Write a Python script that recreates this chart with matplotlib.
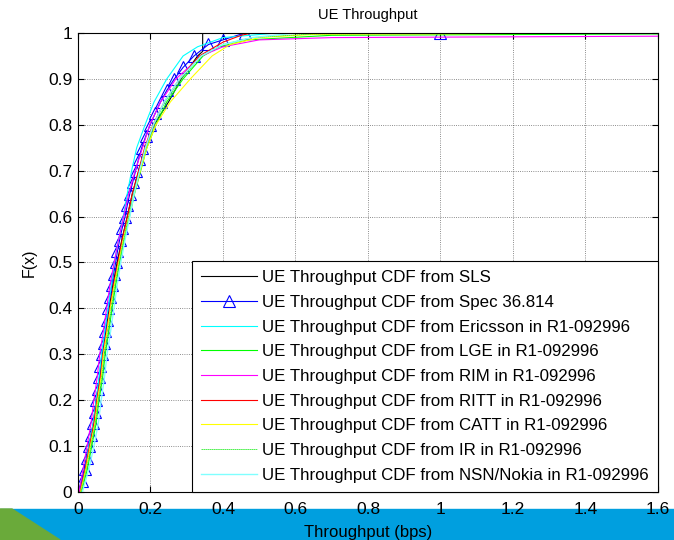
import numpy as np
import matplotlib
matplotlib.use('Agg')
import matplotlib.pyplot as plt
from matplotlib.patches import Rectangle, Polygon

plt.rcParams['font.family'] = ['Liberation Sans', 'DejaVu Sans']

# CDF levels shared by most of the curves
cdf_levels = [0.0, 0.05, 0.1, 0.15, 0.2, 0.25, 0.3, 0.35, 0.4, 0.45, 0.5,
              0.55, 0.6, 0.65, 0.7, 0.75, 0.8, 0.85, 0.9, 0.95]

# throughput (x) read at each level, plus the tail of each curve
sls_x = [0.004, 0.018, 0.03, 0.043, 0.05, 0.06, 0.067, 0.077, 0.086, 0.096, 0.108,
         0.121, 0.136, 0.15, 0.168, 0.186, 0.21, 0.25, 0.285, 0.33]
sls_tail_f = [0.96, 1.0]
sls_tail_x = [0.344, 0.344]

ericsson_x = [0.006, 0.02, 0.03, 0.042, 0.05, 0.058, 0.065, 0.074, 0.083, 0.092, 0.1,
              0.112, 0.125, 0.136, 0.148, 0.162, 0.185, 0.21, 0.245, 0.29]
ericsson_tail_f = [0.97, 0.99, 1.0, 1.0]
ericsson_tail_x = [0.33, 0.4, 0.55, 1.6]

lge_x = [0.01, 0.026, 0.038, 0.05, 0.058, 0.068, 0.075, 0.085, 0.094, 0.104, 0.115,
         0.128, 0.142, 0.156, 0.173, 0.19, 0.215, 0.245, 0.29, 0.345]
lge_tail_f = [0.97, 0.985, 0.995, 0.998]
lge_tail_x = [0.39, 0.47, 0.7, 1.6]

rim_x = [0.003, 0.014, 0.025, 0.036, 0.044, 0.053, 0.06, 0.07, 0.079, 0.088, 0.1,
         0.112, 0.126, 0.14, 0.158, 0.178, 0.198, 0.228, 0.27, 0.34]
rim_tail_f = [0.97, 0.985, 0.99, 0.993]
rim_tail_x = [0.4, 0.5, 0.7, 1.6]

ritt_x = [0.006, 0.02, 0.032, 0.044, 0.052, 0.062, 0.069, 0.079, 0.088, 0.098, 0.11,
          0.122, 0.136, 0.15, 0.167, 0.184, 0.207, 0.238, 0.28, 0.335]
ritt_tail_f = [0.98, 0.995, 1.0, 1.0]
ritt_tail_x = [0.4, 0.45, 0.48, 1.6]

catt_x = [0.007, 0.022, 0.034, 0.047, 0.054, 0.064, 0.07, 0.08, 0.089, 0.1, 0.112,
          0.125, 0.14, 0.155, 0.172, 0.19, 0.215, 0.255, 0.31, 0.37]
catt_tail_f = [0.975, 0.99, 0.997, 1.0]
catt_tail_x = [0.42, 0.5, 0.65, 1.6]

ir_x = [0.008, 0.024, 0.036, 0.048, 0.056, 0.066, 0.073, 0.083, 0.092, 0.102, 0.114,
        0.126, 0.14, 0.153, 0.17, 0.188, 0.21, 0.24, 0.285, 0.34]
ir_tail_f = [0.975, 0.99, 0.998, 1.0]
ir_tail_x = [0.4, 0.48, 0.65, 1.6]

nsn_x = [0.012, 0.03, 0.044, 0.056, 0.064, 0.073, 0.08, 0.09, 0.099, 0.108, 0.118,
         0.13, 0.143, 0.155, 0.17, 0.186, 0.208, 0.238, 0.28, 0.34]
nsn_tail_f = [0.975, 0.99, 1.0, 1.0]
nsn_tail_x = [0.4, 0.48, 0.6, 1.6]

# Spec 36.814 curve has its own, denser points
spec_f = [0.0, 0.025, 0.05, 0.075, 0.1, 0.125, 0.15, 0.175, 0.2, 0.225, 0.25, 0.275,
          0.3, 0.325, 0.35, 0.375, 0.4, 0.425, 0.45, 0.475, 0.5, 0.525, 0.55, 0.575,
          0.6, 0.625, 0.65, 0.675, 0.7, 0.725, 0.75, 0.775, 0.8, 0.825, 0.85, 0.875,
          0.9, 0.925, 0.95, 0.975, 0.985, 1.0, 1.0]
spec_x = [0.0, 0.01, 0.018, 0.024, 0.03, 0.036, 0.042, 0.046, 0.05, 0.055, 0.059, 0.062,
          0.066, 0.071, 0.075, 0.079, 0.084, 0.088, 0.093, 0.098, 0.104, 0.109, 0.115, 0.122,
          0.13, 0.136, 0.143, 0.151, 0.159, 0.167, 0.176, 0.187, 0.199, 0.213, 0.228, 0.245,
          0.266, 0.29, 0.32, 0.36, 0.4, 0.46, 1.0]

fig = plt.figure(figsize=(6.74, 5.4), dpi=100)
ax = fig.add_axes([0.1157, 0.0889, 0.8605, 0.85])

ax.plot(sls_x + sls_tail_x, cdf_levels + sls_tail_f, color='black', lw=0.8,
        label='UE Throughput CDF from SLS')
ax.plot(spec_x, spec_f, color='#0000ff', lw=0.8, marker='^', mfc='none', ms=9, mew=0.8,
        label='UE Throughput CDF from Spec 36.814')
ax.plot(ericsson_x + ericsson_tail_x, cdf_levels + ericsson_tail_f, color='#00ffff', lw=0.8,
        label='UE Throughput CDF from Ericsson in R1-092996')
ax.plot(lge_x + lge_tail_x, cdf_levels + lge_tail_f, color='#00ff00', lw=0.8,
        label='UE Throughput CDF from LGE in R1-092996')
ax.plot(rim_x + rim_tail_x, cdf_levels + rim_tail_f, color='#ff00ff', lw=0.8,
        label='UE Throughput CDF from RIM in R1-092996')
ax.plot(ritt_x + ritt_tail_x, cdf_levels + ritt_tail_f, color='#ff0000', lw=0.8,
        label='UE Throughput CDF from RITT in R1-092996')
ax.plot(catt_x + catt_tail_x, cdf_levels + catt_tail_f, color='#ffff00', lw=0.8,
        label='UE Throughput CDF from CATT in R1-092996')
ax.plot(ir_x + ir_tail_x, cdf_levels + ir_tail_f, color='#33ee33', lw=0.6, ls=(0, (2, 0.5)),
        label='UE Throughput CDF from IR in R1-092996')
ax.plot(nsn_x + nsn_tail_x, cdf_levels + nsn_tail_f, color='#80ffff', lw=1.0,
        label='UE Throughput CDF from NSN/Nokia in R1-092996')

ax.set_xlim(0, 1.6)
ax.set_ylim(0, 1)
ax.set_xticks(np.arange(0, 1.61, 0.2))
ax.set_xticklabels(['0', '0.2', '0.4', '0.6', '0.8', '1', '1.2', '1.4', '1.6'])
ax.set_yticks(np.arange(0, 1.01, 0.1))
ax.set_yticklabels(['0', '0.1', '0.2', '0.3', '0.4', '0.5', '0.6', '0.7', '0.8', '0.9', '1'])
ax.tick_params(direction='in', labelsize=12.5, length=4, top=True, right=True)
ax.tick_params(axis='x', pad=7)
ax.tick_params(axis='y', pad=4)
ax.grid(True, color='black', ls=':', lw=0.6, alpha=0.6)
for s in ax.spines.values():
    s.set_linewidth(0.8)

ax.set_title('UE Throughput', fontsize=10.5, pad=10)
ax.set_xlabel('Throughput (bps)', fontsize=12, labelpad=6)
ax.set_ylabel('F(x)', fontsize=11.5, labelpad=8)

leg = ax.legend(loc='lower right', borderaxespad=0, fontsize=12.2, handlelength=3.3,
                numpoints=1, labelspacing=0.57, fancybox=False, framealpha=1,
                edgecolor='black', borderpad=0.55, handletextpad=0.3)
leg.get_frame().set_linewidth(0.8)

# decorative band along the bottom of the slide
fig.add_artist(Rectangle((0, 0), 1, 31 / 540, transform=fig.transFigure,
                         color='#009fdf', zorder=-1))
fig.add_artist(Polygon([(0, 31 / 540), (12 / 674, 31 / 540), (60 / 674, 0), (0, 0)],
                       closed=True, transform=fig.transFigure, color='#6aaa3a', zorder=-1))

fig.savefig('out.png', dpi=100)
